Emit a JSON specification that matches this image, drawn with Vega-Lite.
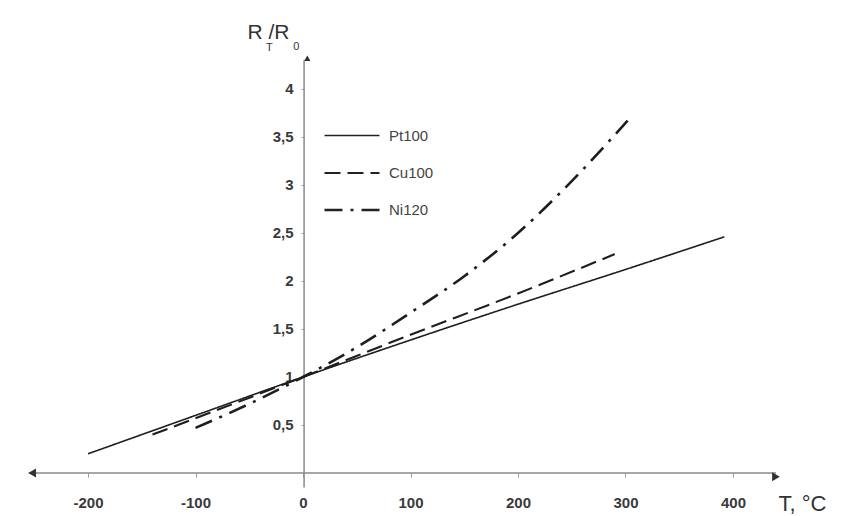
{
  "$schema": "https://vega.github.io/schema/vega-lite/v6.json",
  "width": 841,
  "height": 516,
  "autosize": {"type": "none"},
  "padding": 0,
  "background": "#ffffff",
  "config": {"view": {"stroke": null}, "font": "Liberation Sans"},
  "title": {"text": "T", "anchor": "start", "dx": 266, "dy": 53, "fontSize": 11, "fontWeight": "normal", "color": "#333", "offset": 0},
  "data": {"values": [
    {"series": "Pt100", "T": -200, "R": 0.2},
    {"series": "Pt100", "T": -100, "R": 0.6},
    {"series": "Pt100", "T": 0, "R": 1.0},
    {"series": "Pt100", "T": 100, "R": 1.385},
    {"series": "Pt100", "T": 200, "R": 1.758},
    {"series": "Pt100", "T": 300, "R": 2.12},
    {"series": "Pt100", "T": 392, "R": 2.46},
    {"series": "Cu100", "T": -140, "R": 0.4},
    {"series": "Cu100", "T": 0, "R": 1.0},
    {"series": "Cu100", "T": 100, "R": 1.44},
    {"series": "Cu100", "T": 200, "R": 1.87},
    {"series": "Cu100", "T": 290, "R": 2.28},
    {"series": "Ni120", "T": -100, "R": 0.47},
    {"series": "Ni120", "T": -50, "R": 0.72},
    {"series": "Ni120", "T": 0, "R": 1.0},
    {"series": "Ni120", "T": 50, "R": 1.31},
    {"series": "Ni120", "T": 100, "R": 1.67},
    {"series": "Ni120", "T": 150, "R": 2.05},
    {"series": "Ni120", "T": 200, "R": 2.5},
    {"series": "Ni120", "T": 250, "R": 3.04},
    {"series": "Ni120", "T": 302, "R": 3.67}
  ]},
  "layer": [
    {
      "data": {"values": [{}]},
      "mark": {"type": "rule", "color": "#8a8a8a", "strokeWidth": 1.5},
      "encoding": {
        "x": {"datum": -255, "type": "quantitative", "scale": {"domain": [-281.9, 500.5], "nice": false, "zero": false},
          "axis": {"orient": "bottom", "offset": -43, "domain": false, "values": [-200, -100, 0, 100, 200, 300, 400],
            "tickSize": 4, "tickColor": "#999", "labelPadding": 18, "labelFontSize": 15, "labelFontWeight": "bold", "labelColor": "#3a3a3a",
            "labelExpr": "'' + datum.value", "grid": false,
            "title": "T, °C", "titleX": 778, "titleY": 30, "titleAlign": "left", "titleBaseline": "middle", "titleFontSize": 22, "titleFontWeight": "normal", "titleColor": "#333"}},
        "x2": {"datum": 440},
        "y": {"datum": 0, "type": "quantitative", "scale": {"domain": [-0.448, 4.927], "nice": false, "zero": false},
          "axis": {"orient": "left", "offset": -304, "domain": false, "values": [0.5, 1, 1.5, 2, 2.5, 3, 3.5, 4],
            "tickSize": 3, "tickColor": "#999", "labelPadding": 8, "labelFontSize": 15, "labelFontWeight": "bold", "labelColor": "#3a3a3a",
            "labelExpr": "replace('' + datum.value, '.', ',')", "grid": false,
            "title": "R  /R", "titleAngle": 0, "titleX": -57, "titleY": 38, "titleAlign": "left", "titleBaseline": "alphabetic", "titleFontSize": 21, "titleFontWeight": "normal", "titleColor": "#333"}}
      }
    },
    {
      "data": {"values": [{}]},
      "mark": {"type": "rule", "color": "#8a8a8a", "strokeWidth": 1.5},
      "encoding": {
        "x": {"datum": 1, "type": "quantitative"},
        "y": {"datum": -0.15, "type": "quantitative"},
        "y2": {"datum": 4.3}
      }
    },
    {
      "data": {"values": [{}]},
      "mark": {"type": "point", "shape": "triangle-left", "filled": true, "color": "#333", "size": 80, "opacity": 1},
      "encoding": {"x": {"datum": -252, "type": "quantitative"}, "y": {"datum": 0, "type": "quantitative"}}
    },
    {
      "data": {"values": [{}]},
      "mark": {"type": "point", "shape": "triangle-right", "filled": true, "color": "#333", "size": 80, "opacity": 1},
      "encoding": {"x": {"datum": 440, "type": "quantitative"}, "y": {"datum": -0.04, "type": "quantitative"}}
    },
    {
      "data": {"values": [{}]},
      "mark": {"type": "point", "shape": "triangle-up", "filled": true, "color": "#333", "size": 40, "opacity": 1},
      "encoding": {"x": {"datum": 4, "type": "quantitative"}, "y": {"datum": 4.32, "type": "quantitative"}}
    },
    {
      "data": {"values": [{}]},
      "mark": {"type": "text", "text": "0", "fontSize": 11, "fontWeight": "normal", "color": "#333", "align": "left", "baseline": "alphabetic"},
      "encoding": {"x": {"datum": -9, "type": "quantitative"}, "y": {"datum": 4.41, "type": "quantitative"}}
    },
    {
      "mark": {"type": "line", "color": "#1e1e1e", "interpolate": "monotone"},
      "encoding": {
        "x": {"field": "T", "type": "quantitative"},
        "y": {"field": "R", "type": "quantitative"},
        "detail": {"field": "series"},
        "strokeDash": {"field": "series", "type": "nominal",
          "scale": {"domain": ["Pt100", "Cu100", "Ni120"], "range": [[1, 0], [16, 7], [18, 8, 3, 8]]},
          "legend": {"orient": "none", "legendX": 323, "legendY": 107, "title": null, "symbolType": "stroke", "symbolSize": 3025,
            "symbolStrokeWidth": 2.2, "symbolStrokeColor": "#222", "labelFontSize": 15, "labelColor": "#444", "labelOffset": 8,
            "rowPadding": -21, "padding": 0}},
        "strokeWidth": {"field": "series", "type": "nominal",
          "scale": {"domain": ["Pt100", "Cu100", "Ni120"], "range": [1.6, 2.6, 2.6]}, "legend": null}
      }
    }
  ]
}
